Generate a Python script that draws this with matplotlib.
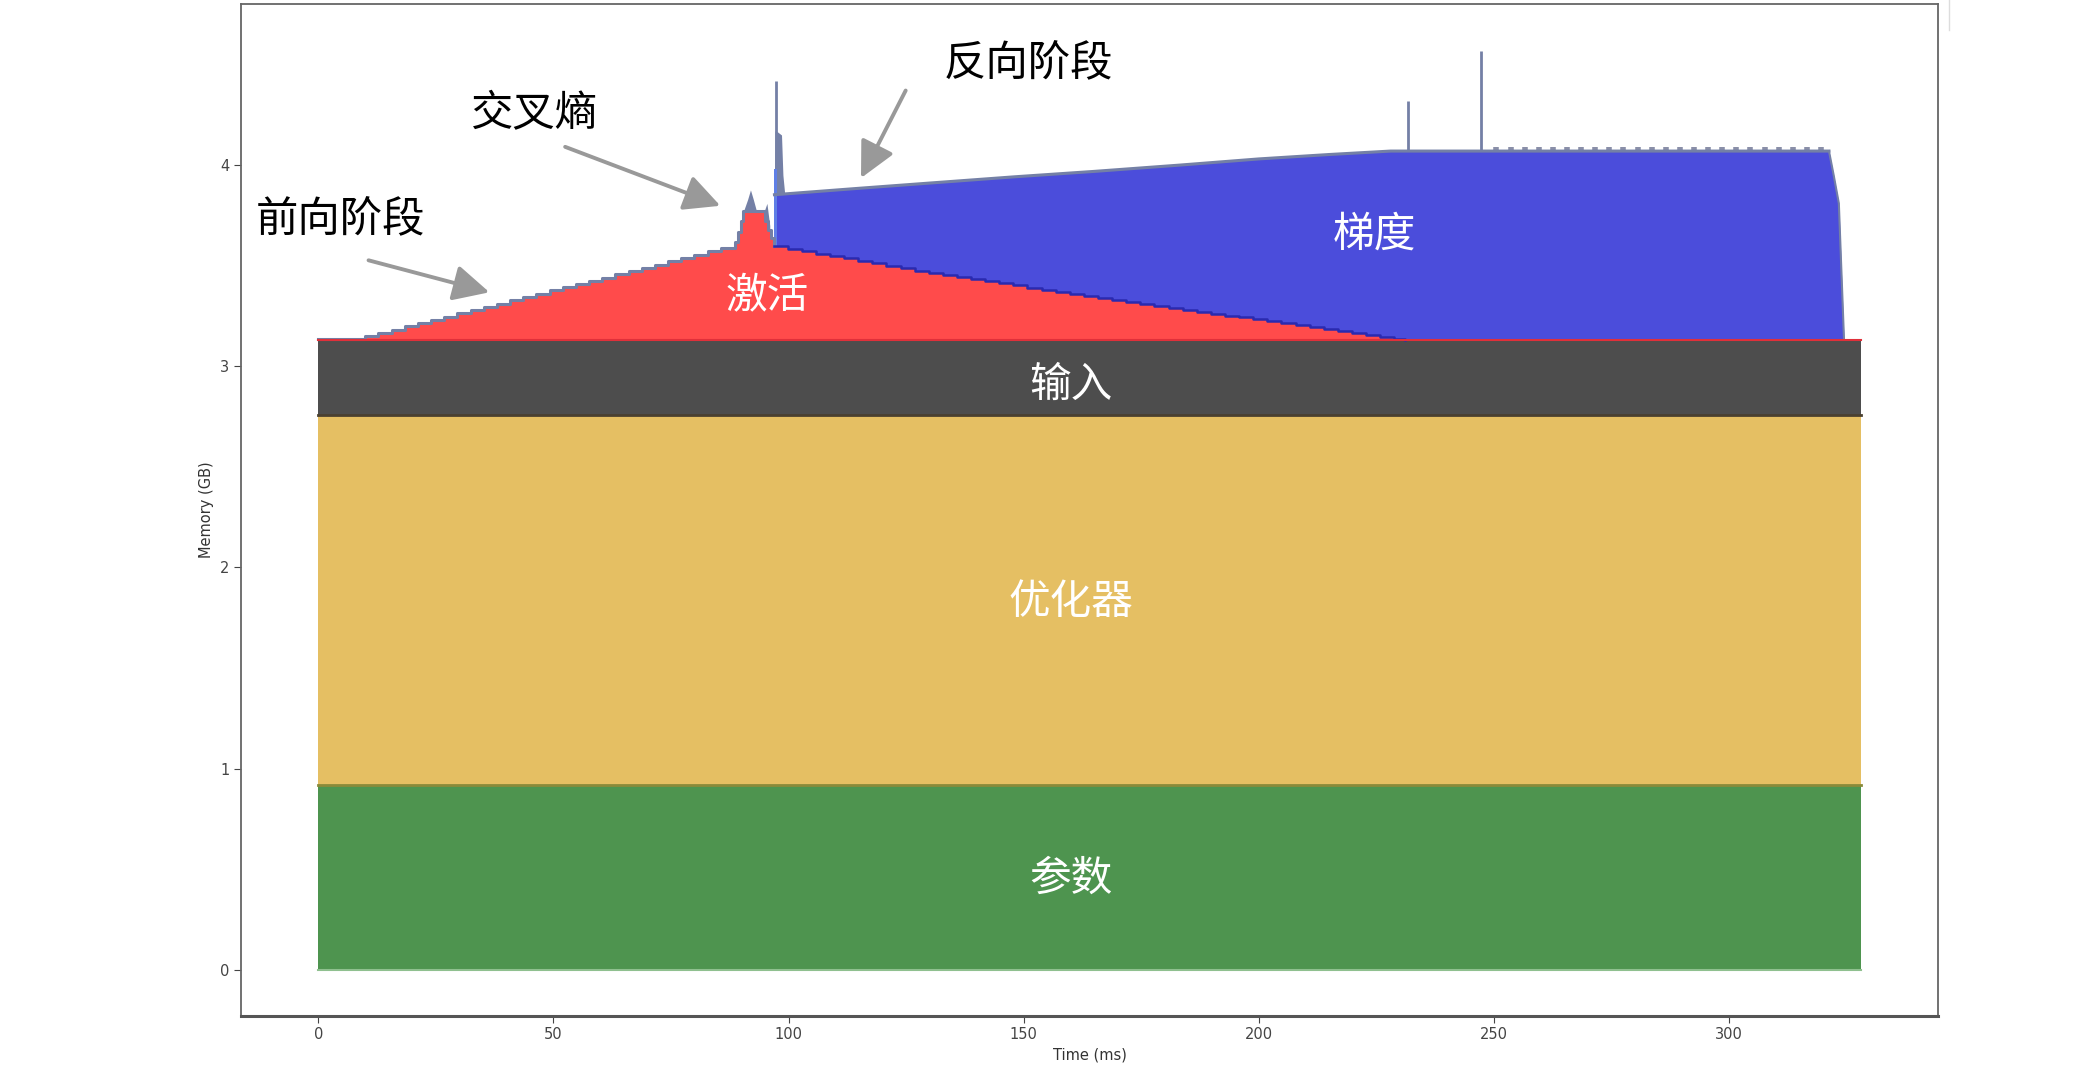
import numpy as np
import matplotlib
matplotlib.use('Agg')
from matplotlib import pyplot as plt
from matplotlib.lines import Line2D

cjk = ['Noto Sans CJK SC', 'DejaVu Sans']

# static layers (GB), stacked bottom to top
t_span = [0, 328]
params_top = 0.918
optim_top = 2.757
input_top = 3.131

# activations: top edge of the red area (ms, GB), stepped
act_t = [0, 10.0, 12.8, 15.6, 18.4, 21.2, 24.0, 26.8, 29.6, 32.4, 35.2, 38.0, 40.8,
         43.6, 46.4, 49.2, 52.0, 54.8, 57.6, 60.4, 63.2, 66.0, 68.8, 71.6, 74.4,
         77.2, 80.0, 82.8, 85.6, 88.6, 89.2, 89.8, 90.4, 95.0, 95.6, 96.2, 96.8,
         99.8, 102.8, 105.8, 108.8, 111.8, 114.8, 117.8, 120.8, 123.8, 126.8,
         129.8, 132.8, 135.8, 138.8, 141.8, 144.8, 147.8, 150.8, 153.8, 156.8,
         159.8, 162.8, 165.8, 168.8, 171.8, 174.8, 177.8, 180.8, 183.8, 186.8,
         189.8, 192.8, 195.8, 198.8, 201.8, 204.8, 207.8, 210.8, 213.8, 216.8,
         219.8, 222.8, 225.8, 228.8, 231.0]
act_top = [3.136, 3.150, 3.166, 3.182, 3.198, 3.215, 3.231, 3.247, 3.263, 3.279, 3.296,
           3.312, 3.328, 3.344, 3.360, 3.377, 3.393, 3.409, 3.425, 3.441, 3.458,
           3.474, 3.490, 3.506, 3.522, 3.539, 3.555, 3.571, 3.587, 3.620, 3.670,
           3.720, 3.770, 3.720, 3.680, 3.640, 3.596,
           3.584, 3.572, 3.560, 3.548, 3.536, 3.524, 3.512, 3.500, 3.488, 3.476,
           3.464, 3.454, 3.443, 3.433, 3.422, 3.412, 3.402, 3.391, 3.381, 3.370,
           3.360, 3.350, 3.340, 3.330, 3.320, 3.311, 3.301, 3.291, 3.281, 3.272,
           3.262, 3.252, 3.243, 3.233, 3.223, 3.213, 3.203, 3.194, 3.184, 3.174,
           3.164, 3.155, 3.145, 3.136, 3.131]

# gradients: top edge of the blue area (ms, GB)
grad_t = [97.0, 115.0, 130.0, 148.0, 165.0, 183.0, 200.0, 215.0, 228.0, 321.2,
          322.2, 323.3, 323.8, 324.4]
grad_top = [3.853, 3.885, 3.911, 3.942, 3.969, 4.000, 4.031, 4.053, 4.070, 4.070,
            3.950, 3.810, 3.500, 3.131]

# short-lived allocations above the stack
loss_t = [90.4, 91.3, 91.9, 92.5, 93.2, 94.8, 95.4, 96.0]
loss_top = [3.770, 3.830, 3.877, 3.830, 3.770, 3.770, 3.810, 3.700]
bwd_t = [96.9, 97.1, 97.4, 98.5, 98.8, 99.2]
bwd_top = [3.700, 4.170, 4.170, 4.150, 3.950, 3.853]
spike_t = [97.4, 231.7, 247.3]
spike_top = [4.42, 4.32, 4.57]
tooth_t = [250.5, 253.5, 256.5, 259.5, 262.5, 265.5, 268.5, 271.5, 274.5, 277.5,
           280.5, 283.5, 286.5, 289.5, 292.5, 295.5, 298.5, 301.5, 304.5, 307.5,
           310.5, 313.5, 316.5, 319.5]

fig = plt.figure(figsize=(21, 10.86), dpi=100)
ax = fig.add_axes([0.1148, 0.0648, 0.8081, 0.9313])

c_green = '#4e944f'
c_yellow = '#e5bf63'
c_dark = '#4d4d4d'
c_red = '#ff4b4b'
c_blue = '#4b4ddb'
c_other = '#7480a6'

# static blocks
ax.fill_between(t_span, 0, params_top, color=c_green, lw=0)
ax.fill_between(t_span, params_top, optim_top, color=c_yellow, lw=0)
ax.fill_between(t_span, optim_top, input_top, color=c_dark, lw=0)
ax.plot(t_span, [0, 0], color='#8fc08f', lw=1.5)
ax.plot(t_span, [params_top] * 2, color='#8a8a3a', lw=2)
ax.plot(t_span, [optim_top] * 2, color='#4a4030', lw=2)

# transient allocations (drawn underneath the gradient/activation areas)
ax.fill_between(loss_t, input_top, loss_top, color=c_other, lw=0, zorder=0.8)
ax.fill_between(bwd_t, input_top, bwd_top, color=c_other, lw=0, zorder=0.8)
ax.fill_between([96.9, 97.6], 3.60, 3.98, color='#5f7fe6', lw=0, zorder=1.05)
ax.vlines(spike_t, input_top, spike_top, color=c_other, lw=2, zorder=0.8)
ax.vlines(tooth_t, 4.0, 4.092, color='#8a8fa8', lw=4, zorder=0.8)

# gradients then activations on top
ax.fill_between(grad_t, input_top, grad_top, color=c_blue, lw=0, zorder=1)
ax.plot(grad_t[:-4], grad_top[:-4], color=c_other, lw=2.2)
ax.plot(grad_t[-5:], grad_top[-5:], color=c_other, lw=1.5)
ax.fill_between(act_t, input_top, act_top, step='post', color=c_red, lw=0, zorder=1.1)
fwd_n = 37
ax.step(act_t[:fwd_n], act_top[:fwd_n], where='post', color=c_other, lw=2.2)
ax.step(act_t[fwd_n - 1:], act_top[fwd_n - 1:], where='post', color='#2a2ab0', lw=1.8)
ax.plot(t_span, [input_top] * 2, color='#e0303a', lw=1.5)

# labels inside the layers
lab = dict(color='white', fontsize=30, ha='center', va='center', family=cjk)
ax.text(160, 0.45, '参数', **lab)
ax.text(160, 1.828, '优化器', **lab)
ax.text(160, 2.905, '输入', **lab)
ax.text(95.5, 3.35, '激活', **lab)
ax.text(224.5, 3.654, '梯度', **lab)

# phase annotations
arr = dict(arrowstyle='-|>,head_length=1.0,head_width=0.5', color='#999999',
           lw=2.8, mutation_scale=22, shrinkA=0, shrinkB=0)
txt = dict(color='black', fontsize=30.5, ha='center', va='center', family=cjk)
ax.text(4.8, 3.724, '前向阶段', **txt)
ax.text(46.0, 4.255, '交叉熵', **txt)
ax.text(151.0, 4.50, '反向阶段', **txt)
ax.annotate('', xy=(36.4, 3.368), xytext=(10.7, 3.527), arrowprops=arr)
ax.annotate('', xy=(85.5, 3.798), xytext=(52.5, 4.091), arrowprops=arr)
ax.annotate('', xy=(115.4, 3.936), xytext=(124.9, 4.371), arrowprops=arr)

ax.set_xlim(-16.4, 344.4)
ax.set_ylim(-0.228, 4.80)
ax.set_xticks([0, 50, 100, 150, 200, 250, 300])
ax.set_yticks([0, 1, 2, 3, 4])
ax.tick_params(labelsize=10.5, colors='#444444', length=5)
ax.set_xlabel('Time (ms)', fontsize=10.5, color='#333333')
ax.set_ylabel('Memory (GB)', fontsize=10.5, color='#333333')
for s in ['left', 'right', 'top']:
    ax.spines[s].set_color('#666666')
    ax.spines[s].set_linewidth(1.3)
ax.spines['bottom'].set_color('#555555')
ax.spines['bottom'].set_linewidth(2.2)

fig.add_artist(Line2D([0.928, 0.928], [0.972, 1.0], color='#dddddd', lw=1))

plt.savefig('out.png')
